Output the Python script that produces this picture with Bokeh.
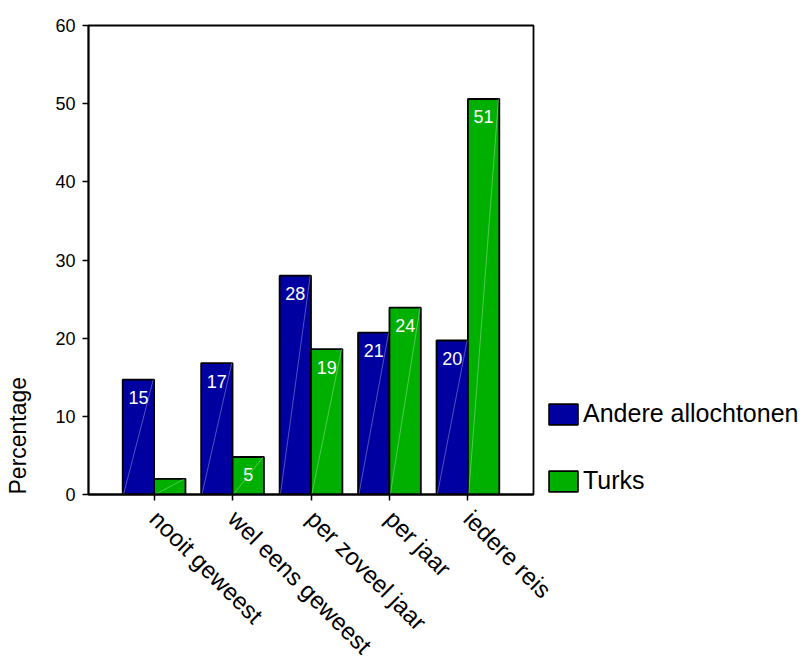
import math
from bokeh.plotting import figure
from bokeh.models import (ColumnDataSource, FactorRange, Range1d, Legend, LegendItem,
                          Title, FixedTicker)
from bokeh.transform import dodge
from bokeh.core.properties import value
from bokeh.embed import file_html
from bokeh.resources import INLINE

categories = ["nooit geweest", "wel eens geweest", "per zoveel jaar", "per jaar", "iedere reis"]
andere = [14.7, 16.8, 28.0, 20.7, 19.7]
turks = [2.0, 4.8, 18.6, 23.9, 50.6]
andere_labels = ["15", "17", "28", "21", "20"]
turks_labels = ["", "5", "19", "24", "51"]
y_ticks = [0, 10, 20, 30, 40, 50, 60]
series_names = ["Andere allochtonen", "Turks"]

FONT = "Liberation Sans"
BLUE = "#0000A0"
GREEN = "#00B000"

src = ColumnDataSource(dict(cat=categories, andere=andere, turks=turks,
                            al=andere_labels, tl=turks_labels, zero=[0] * len(categories)))

xr = FactorRange(*categories, range_padding=0.336, range_padding_units="absolute")
p = figure(x_range=xr, y_range=Range1d(0, 60), frame_width=445, frame_height=469,
           output_backend="svg", toolbar_location=None,
           min_border_left=88, min_border_right=267, min_border_top=25, min_border_bottom=166)

b1 = p.vbar(x=dodge("cat", -0.2, range=xr), top="andere", width=0.4, source=src,
            fill_color=BLUE, line_color="black", line_width=1.8)
b2 = p.vbar(x=dodge("cat", 0.2, range=xr), top="turks", width=0.4, source=src,
            fill_color=GREEN, line_color="black", line_width=1.8)

# faint diagonal sheen lines inside bars
p.segment(x0=dodge("cat", -0.39, range=xr), y0="zero", x1=dodge("cat", -0.01, range=xr), y1="andere",
          source=src, line_color="white", line_alpha=0.45, line_width=0.7)
p.segment(x0=dodge("cat", 0.01, range=xr), y0="zero", x1=dodge("cat", 0.39, range=xr), y1="turks",
          source=src, line_color="white", line_alpha=0.45, line_width=0.7)

p.text(x=dodge("cat", -0.2, range=xr), y="andere", text="al", source=src,
       text_color="white", text_align="center", text_baseline="middle", y_offset=18,
       text_font=value(FONT), text_font_size="18px")
p.text(x=dodge("cat", 0.2, range=xr), y="turks", text="tl", source=src,
       text_color="white", text_align="center", text_baseline="middle", y_offset=18,
       text_font=value(FONT), text_font_size="18px")

p.xgrid.visible = False
p.ygrid.visible = False
p.outline_line_color = "black"
p.outline_line_width = 1.8
p.outline_line_alpha = 1.0
p.background_fill_color = "white"
p.border_fill_color = "white"

for ax in (p.xaxis[0], p.yaxis[0]):
    ax.axis_line_color = "black"
    ax.axis_line_width = 1.8
    ax.major_tick_line_color = "black"
    ax.major_tick_line_width = 1.5
    ax.major_tick_out = 6
    ax.major_tick_in = 0
    ax.minor_tick_line_color = None
    ax.major_label_text_font = FONT
    ax.major_label_text_color = "black"

p.yaxis.ticker = FixedTicker(ticks=y_ticks)
p.yaxis.major_label_text_font_size = "18px"
p.yaxis.major_label_standoff = 7
# blank spacer label to push the side title outward
p.yaxis.axis_label = " "
p.yaxis.axis_label_text_font_size = "1px"
p.yaxis.axis_label_standoff = 16

p.xaxis.major_label_text_font_size = "24px"
p.xaxis.major_label_orientation = -math.pi / 4
p.xaxis.major_label_standoff = 14

ytitle = Title(text="Percentage", align="left", text_font=FONT, text_font_size="23px",
               text_font_style="normal", text_color="black", standoff=4)
p.add_layout(ytitle, "left")

legend = Legend(items=[LegendItem(label=series_names[0], renderers=[b1]),
                       LegendItem(label=series_names[1], renderers=[b2])],
                location=(12, -1), orientation="vertical")
legend.padding = 0
legend.margin = 0
legend.spacing = 38
legend.glyph_width = 36
legend.glyph_height = 26
legend.label_height = 26
legend.label_standoff = 2
legend.label_text_font = FONT
legend.label_text_font_size = "25px"
legend.label_text_color = "black"
legend.border_line_color = None
legend.background_fill_alpha = 0
p.add_layout(legend, "right")

open("out.html", "w").write(file_html(p, INLINE))
